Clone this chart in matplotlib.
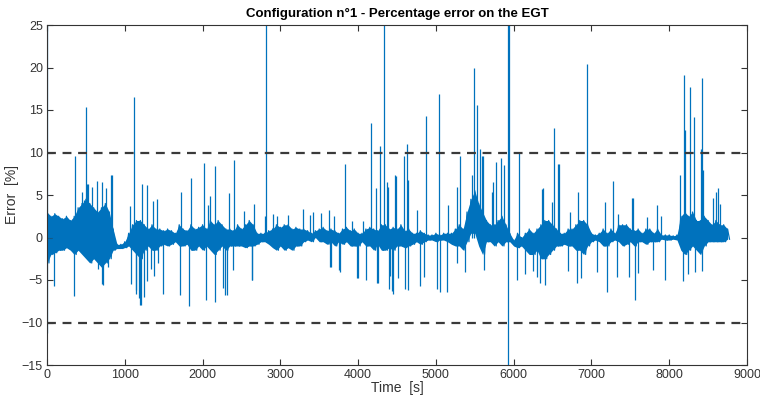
import matplotlib.pyplot as plt
import numpy as np

plt.rcParams['font.family'] = ['Liberation Sans', 'DejaVu Sans']

# core band of the error signal, read every 50 s (upper / lower edge, %)
env_hi = [3.0, 2.5, 2.8, 2.5, 2.2, 2.5, 2.0, 2.5, 3.5, 4.0,
          4.5, 4.0, 3.5, 3.0, 3.5, 4.0, 3.0, 1.0, -0.8, -0.8,
          -0.5, 0.5, 1.5, 2.0, 2.0, 1.5, 1.0, 1.5, 1.0, 1.0,
          0.8, 1.0, 0.8, 0.5, 1.5, 1.0, 0.8, 1.5, 1.0, 1.2,
          1.5, 1.0, 2.0, 1.5, 2.0, 1.5, 1.0, 1.0, 0.8, 1.5,
          1.0, 1.5, 2.0, 1.5, 0.5, 0.5, 0.5, 0.8, 1.0, 1.5,
          1.2, 1.5, 1.5, 1.0, 1.2, 1.0, 1.0, 0.8, 0.5, 0.8,
          1.0, 1.2, 0.8, 1.0, 0.8, 0.5, 1.0, 1.2, 0.8, 1.0,
          0.5, 0.5, 1.0, 1.2, 1.0, 0.8, 1.5, 1.5, 1.0, 1.2,
          1.0, 1.5, 0.8, 1.0, 0.5, 0.5, 0.8, 0.5, 0.3, 0.3,
          0.5, 0.3, 0.5, 0.5, 0.5, 1.0, 1.5, 1.0, 3.0, 4.5,
          5.5, 4.0, 3.0, 2.0, 1.5, 1.5, 2.0, 2.5, 1.5, 0.5,
          -0.3, 0.5, 0.0, 0.5, 1.0, 0.5, 1.0, 1.5, 2.0, 2.0,
          1.5, 1.0, 0.5, 0.5, 1.0, 1.0, 1.5, 2.0, 2.0, 1.5,
          0.5, 0.3, 0.5, 1.0, 0.5, 1.0, 0.5, 1.5, 1.5, 1.5,
          1.0, 0.8, 1.0, 0.5, 1.0, 1.0, 0.5, 1.0, 0.3, 0.3,
          0.3, 0.2, 0.3, 2.5, 3.0, 2.5, 3.0, 2.0, 2.0, 2.5,
          2.0, 1.5, 2.0, 1.5, 1.5, 1.0]
env_lo = [-3.0, -2.0, -1.8, -1.5, -1.5, -1.2, -1.5, -2.0, -1.5, -2.0,
          -2.5, -3.0, -2.5, -3.0, -3.5, -3.0, -2.5, -1.5, -1.3, -1.3,
          -1.2, -1.0, -1.5, -2.0, -2.5, -1.5, -1.0, -1.5, -1.5, -1.0,
          -0.8, -1.0, -0.8, -0.5, -1.0, -1.0, -0.8, -1.5, -1.5, -1.0,
          -1.5, -1.0, -1.5, -2.0, -1.5, -1.0, -1.5, -1.0, -1.0, -1.0,
          -1.0, -1.2, -1.0, -1.0, -0.8, -0.5, -0.5, -0.8, -1.2, -1.5,
          -1.0, -1.5, -1.2, -1.5, -1.0, -1.0, -0.5, -0.3, -0.5, 0.0,
          -0.5, -0.5, -0.8, -0.5, -1.0, -0.5, -0.8, -0.5, -1.0, -1.0,
          -1.0, -0.5, -1.0, -1.0, -1.5, -0.8, -1.5, -1.5, -1.2, -1.5,
          -1.0, -1.0, -1.2, -1.0, -0.8, -0.5, -0.8, -0.5, -0.3, -0.3,
          -0.5, -0.3, -0.3, -0.5, -0.8, -1.0, -1.0, -1.5, -0.5, 0.5,
          0.5, -1.0, -2.0, -0.5, -0.5, -1.0, -0.5, -1.0, -0.5, -0.5,
          -1.0, -1.2, -1.0, -1.5, -2.0, -2.0, -1.5, -2.5, -2.5, -2.0,
          -1.5, -1.0, -1.0, -0.8, -1.0, -1.0, -1.5, -1.5, -2.0, -1.0,
          -0.5, -0.3, -0.5, -1.0, -1.0, -0.5, -0.3, -0.5, -1.0, -0.8,
          -0.5, -1.0, -0.5, -0.5, -0.8, -0.5, -0.5, -0.5, -0.2, -0.3,
          -0.3, -0.2, -0.3, -1.5, -2.0, -1.5, -1.0, -1.5, -2.0, -1.0,
          -0.5, -0.5, -0.5, -0.5, -0.5, -0.2]
env_t = np.arange(len(env_hi)) * 50

# large spikes (time [s], peak error [%])
spike_t = [0, 5, 90, 350, 360, 500, 510, 645, 705, 710, 835, 1120, 1150, 1200,
           1220, 1250, 1490, 1710, 1830, 1850, 2020, 2040, 2160, 2165, 2320,
           2410, 2630, 2820, 3640, 3770, 3830, 3990, 4100, 4165, 4260, 4280,
           4335, 4370, 4450, 4490, 4590, 4630, 4635, 4800, 4875, 5040, 5055,
           5140, 5270, 5310, 5490, 5530, 5570, 5590, 5775, 5880, 5925, 5930,
           5935, 6070, 6300, 6370, 6400, 6520, 6570, 6815, 6830, 6945, 7200,
           7280, 7520, 7560, 7945, 8140, 8190, 8205, 8270, 8320, 8410, 8420,
           8425, 8430, 8630]
spike_v = [25, -11.2, -5.7, -6.9, 9.6, 15.3, 6.3, 6.7, 6.5, -5.5, 7.3, 16.5,
           -6.2, -7.9, 6.3, -7.0, -6.6, -6.8, -8.0, 7.0, 8.8, -7.4, 8.4, -7.6,
           -6.8, 9.1, -5.0, 25, -3.5, -4.1, 8.7, -4.8, -5.0, 13.5, -5.3, 10.8,
           25, 6.5, -6.6, 7.2, 9.6, 11.0, -6.2, -5.7, 14.3, 16.9, -6.4, -6.4,
           5.9, 9.6, 20.0, 15.6, 10.4, 9.6, 8.9, 8.5, 25, -15, 25, 10.0, -4.7,
           5.7, -5.6, 12.9, 8.7, -5.3, 5.4, 20.4, -6.4, 6.7, 4.7, -7.4, -5.0,
           7.4, 19.1, 12.6, 17.7, 14.2, 10.4, -3.9, 18.8, 8.0, 5.8]

# smaller spikes around the core band
small_t = [450, 480, 530, 580, 655, 720, 760, 780, 825, 1070, 1080, 1145,
           1185, 1210, 1285, 1290, 1335, 1365, 1380, 1415, 1425, 1720, 2070,
           2095, 2260, 2290, 2340, 2390, 2530, 2640, 2660, 2800, 2910, 2960,
           3100, 3290, 3380, 3420, 3520, 3630, 3650, 3690, 3750, 3920, 4000,
           4060, 4230, 4240, 4390, 4400, 4410, 4435, 4480, 4515, 4600, 4640,
           4760, 4850, 5015, 5160, 5275, 5375, 5470, 5620, 5610, 5725, 5740,
           5840, 6045, 6150, 6250, 6340, 6380, 6495, 6585, 6700, 6725, 6865,
           7070, 7175, 7330, 7345, 7485, 7535, 7600, 7715, 7795, 7845, 7900,
           8180, 8240, 8330, 8565, 8600, 8650]
small_v = [5.4, 4.4, 6.3, 6.0, -3.7, -5.6, 5.8, -3.5, 7.3, 3.7, -5.5, -6.6,
           -7.1, -7.9, 6.2, -5.1, -3.7, 4.3, -4.5, 4.5, -3.0, 5.3, 3.8,
           4.9, -5.9, -6.8, 5.2, -3.8, 3.1, -5.0, 3.9, 2.5, 2.8, 2.5,
           2.6, 3.4, 2.6, 3.0, 2.9, 3.2, -3.5, 2.5, -3.8, 2.0, -4.8,
           2.0, 5.8, -5.3, 6.0, -6.0, -4.5, -6.3, 7.3, -4.8, -6.0, 6.8,
           3.2, -4.7, -6.1, 3.8, -3.0, -4.0, 7.3, -3.8, 9.6, 5.3, 6.5,
           9.4, -5.0, -4.3, -3.9, -5.3, 5.8, 4.2, 8.7, -3.9, 3.0, -4.8,
           -4.0, 4.2, -4.7, 2.8, -4.7, 4.6, -4.2, 2.4, -3.8, 3.8, 2.5,
           -5.1, -4.3, -4.0, 4.7, 5.3, 4.0]

limit = 10

fig = plt.figure(figsize=(7.6, 4.01), dpi=100)
ax = fig.add_axes([47 / 760, 36 / 401, 700 / 760, 340 / 401])

blue = '#0072BD'
ax.fill_between(env_t, env_lo, env_hi, color=blue, lw=0)
# zig-zag through the band edges so it looks like a noisy trace
zz_t = np.ravel(np.column_stack([env_t, env_t + 25]))
zz_v = np.ravel(np.column_stack([env_hi, env_lo]))
ax.plot(zz_t, zz_v, color=blue, lw=0.9)
ax.vlines(small_t, 0, small_v, color=blue, lw=0.9)
ax.vlines(spike_t, 0, spike_v, color=blue, lw=0.9)

ax.axhline(limit, color='#3a3a3a', lw=1.6, ls=(0, (4, 3)))
ax.axhline(-limit, color='#3a3a3a', lw=1.6, ls=(0, (4, 3)))

ax.set_xlim(0, 9000)
ax.set_ylim(-15, 25)
ax.set_xticks(np.arange(0, 9001, 1000))
ax.set_yticks(np.arange(-15, 26, 5))
ax.tick_params(direction='in', top=True, right=True, length=4,
               labelsize=9, colors='#333333', pad=3)
for s in ax.spines.values():
    s.set_color('#333333')
    s.set_linewidth(0.8)

ax.set_title('Configuration n°1 - Percentage error on the EGT',
             fontsize=9.5, fontweight='bold', pad=6)
ax.set_xlabel('Time  [s]', fontsize=10, color='#333333', labelpad=0)
ax.set_ylabel('Error  [%]', fontsize=10, color='#333333', labelpad=2)

plt.savefig('out.png', dpi=100)
